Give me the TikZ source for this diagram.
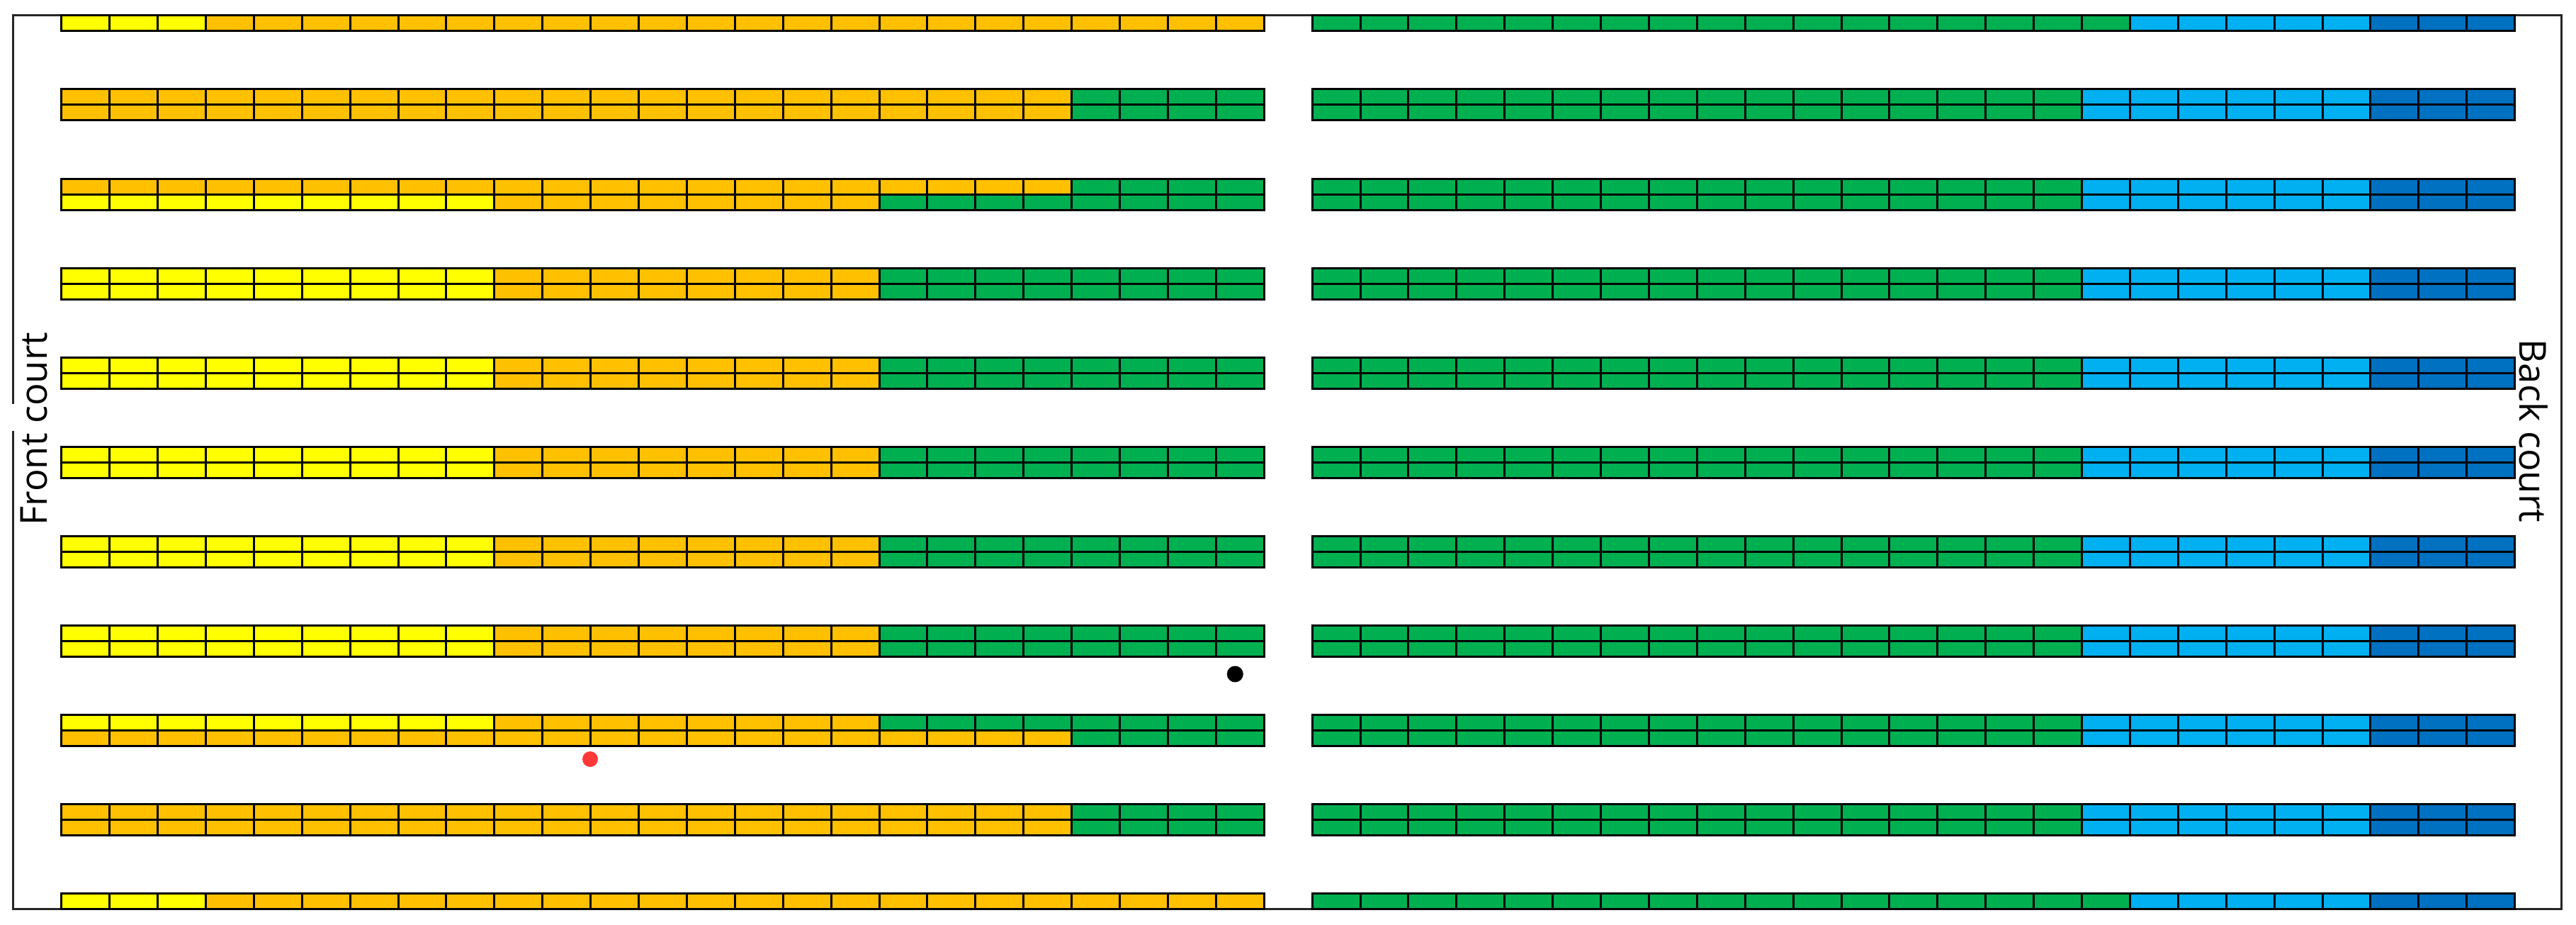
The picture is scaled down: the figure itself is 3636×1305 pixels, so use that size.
\documentclass[tikz,border=0pt]{standalone}
\usepackage{fontspec}
\setmainfont{Open Sans}
\definecolor{cY}{HTML}{FFFF00}
\definecolor{cO}{HTML}{FFC000}
\definecolor{cG}{HTML}{00B050}
\definecolor{cL}{HTML}{00B0F0}
\definecolor{cD}{HTML}{0070C0}
\definecolor{cR}{HTML}{FF3838}
\tikzset{
  cellbox/.style={draw=black, line width=3pt},
  courtline/.style={draw=black!85, line width=3pt},
  courtlabel/.style={font=\fontsize{52.5}{60}\selectfont, inner sep=0pt, anchor=base},
}
% #1 top y, #2 block x0, #3 first cell, #4 last cell, #5 colour
\newcommand\cellrun[5]{%
  \foreach \i in {#3,...,#4}{\draw[cellbox,fill=#5] ({#2+\i*67.9},#1) rectangle ({#2+(\i+1)*67.9},{#1+22});}}
\newcommand\rowLA[1]{\cellrun{#1}{86.7}{0}{2}{cY}\cellrun{#1}{86.7}{3}{24}{cO}}
\newcommand\rowLB[1]{\cellrun{#1}{86.7}{0}{20}{cO}\cellrun{#1}{86.7}{21}{24}{cG}}
\newcommand\rowLC[1]{\cellrun{#1}{86.7}{0}{8}{cY}\cellrun{#1}{86.7}{9}{16}{cO}\cellrun{#1}{86.7}{17}{24}{cG}}
\newcommand\rowRA[1]{\cellrun{#1}{1852.1}{0}{16}{cG}\cellrun{#1}{1852.1}{17}{21}{cL}\cellrun{#1}{1852.1}{22}{24}{cD}}
\newcommand\rowRB[1]{\cellrun{#1}{1852.1}{0}{15}{cG}\cellrun{#1}{1852.1}{16}{21}{cL}\cellrun{#1}{1852.1}{22}{24}{cD}}
\begin{document}
\begin{tikzpicture}[x=1pt,y=-1pt]
\useasboundingbox (0,0) rectangle (3636,1305);
% court outline with an opening on the left side
\coordinate (gapT) at (18.8,570);
\coordinate (gapB) at (18.8,608);
\coordinate (cTL) at (18.8,22);
\coordinate (cTR) at (3615,22);
\coordinate (cBR) at (3615,1282.8);
\coordinate (cBL) at (18.8,1282.8);
\draw[courtline] (gapT) -- (cTL) -- (cTR) -- (cBR) -- (cBL) -- (gapB);
% top single row
\rowLA{22}\rowRA{22}
% double rows
\rowLB{126}\rowLB{148}\rowRB{126}\rowRB{148}
\rowLB{252.1}\rowLC{274.1}\rowRB{252.1}\rowRB{274.1}
\rowLC{378.2}\rowLC{400.2}\rowRB{378.2}\rowRB{400.2}
\rowLC{504.3}\rowLC{526.3}\rowRB{504.3}\rowRB{526.3}
\rowLC{630.4}\rowLC{652.4}\rowRB{630.4}\rowRB{652.4}
\rowLC{756.5}\rowLC{778.5}\rowRB{756.5}\rowRB{778.5}
\rowLC{882.6}\rowLC{904.6}\rowRB{882.6}\rowRB{904.6}
\rowLC{1008.7}\rowLB{1030.7}\rowRB{1008.7}\rowRB{1030.7}
\rowLB{1134.8}\rowLB{1156.8}\rowRB{1134.8}\rowRB{1156.8}
% bottom single row
\rowLA{1260.8}\rowRA{1260.8}
% markers
\fill[black] (1743.3,951) circle[radius=11.5pt];
\fill[cR] (833,1071) circle[radius=11pt];
% labels
\node[courtlabel, rotate=90] (front) at (66,605) {Front court};
\node[courtlabel, rotate=-90] (back) at (3556,608) {Back court};
\end{tikzpicture}
\end{document}
